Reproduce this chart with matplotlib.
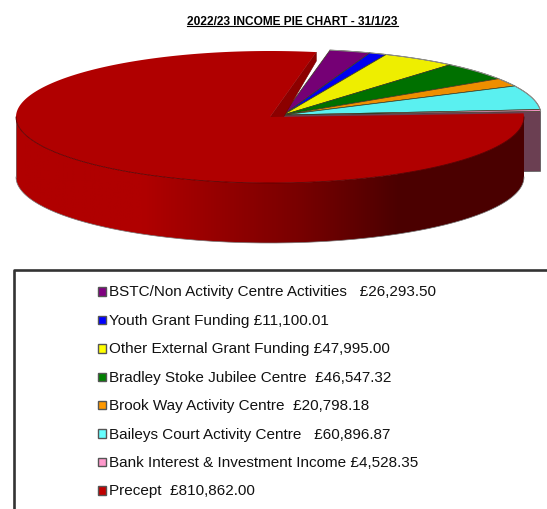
from __future__ import annotations

import matplotlib

matplotlib.use("Agg")
import matplotlib.pyplot as plt
import numpy as np
from matplotlib.colors import LinearSegmentedColormap
from matplotlib.patches import Polygon, Rectangle

plt.rcParams["font.family"] = ["Liberation Sans", "DejaVu Sans"]

TITLE = "2022/23 INCOME PIE CHART - 31/1/23"
VALUES = [26293.50, 11100.01, 47995.00, 46547.32, 20798.18, 60896.87, 4528.35, 810862.00]
LABELS = [
    "BSTC/Non Activity Centre Activities   £26,293.50",
    "Youth Grant Funding £11,100.01",
    "Other External Grant Funding £47,995.00",
    "Bradley Stoke Jubilee Centre  £46,547.32",
    "Brook Way Activity Centre  £20,798.18",
    "Baileys Court Activity Centre   £60,896.87",
    "Bank Interest & Investment Income £4,528.35",
    "Precept  £810,862.00",
]
TOP_COLOURS = ["#750075", "#0000f0", "#eeee00", "#007000", "#ee8e00", "#5af0f0", "#f090c0", "#b00000"]
KEY_COLOURS = ["#800080", "#0000ff", "#ffff00", "#008000", "#ff9900", "#66ffff", "#ff99cc", "#c00000"]

# pie geometry, in image pixels
START = 79.5
CX, CY = 283.0, 116.0
RX, RY = 258.0, 66.0
MAIN_CX, MAIN_CY = 270.0, 118.0
MAIN_RX = 254.0
DEPTH = 60.0


def arc(cx, cy, rx, t0, t1, n=200):
    t = np.radians(np.linspace(t0, t1, n))
    return np.column_stack([cx + rx * np.cos(t), cy - RY * np.sin(t)])


def main() -> None:
    fig = plt.figure(figsize=(5.47, 5.10), dpi=100)
    ax = fig.add_axes([0, 0, 1, 1])
    ax.set_xlim(0, 547)
    ax.set_ylim(510, 0)
    ax.axis("off")

    sweeps = np.array(VALUES) / sum(VALUES) * 360.0
    ends = START - np.cumsum(sweeps)
    starts = ends + sweeps

    # cut wall of the bank interest slice, seen past the end of the precept
    edge = arc(CX, CY, RX, ends[6], ends[6], 1)[0]
    wall = [(CX, CY), tuple(edge), (edge[0], edge[1] + DEPTH), (CX, CY + DEPTH)]
    ax.add_patch(Polygon(wall, closed=True, fc="#6b3f52", ec="#555555", lw=0.5, zorder=1))

    for i in range(7):
        outline = np.vstack([[CX, CY], arc(CX, CY, RX, starts[i], ends[i])])
        ax.add_patch(Polygon(outline, closed=True, fc=TOP_COLOURS[i], ec="#3a3a20", lw=0.5, zorder=2))
        ax.plot(*arc(CX, CY, RX, starts[i], ends[i]).T, color="#909090", lw=0.7, zorder=2)

    # inner wall of the precept at its upper cut
    corner = arc(MAIN_CX, MAIN_CY, MAIN_RX, ends[7], ends[7], 1)[0]
    inner = [(MAIN_CX, MAIN_CY), tuple(corner), (corner[0], corner[1] + 9), (MAIN_CX + 13, MAIN_CY + 1)]
    ax.add_patch(Polygon(inner, closed=True, fc="#8c0000", ec="#700000", lw=0.4, zorder=3))

    # precept side, shaded left to right
    rim = arc(MAIN_CX, MAIN_CY, MAIN_RX, 180, 360)
    side = np.vstack([rim, (rim + [0, DEPTH])[::-1]])
    cmap = LinearSegmentedColormap.from_list(
        "side",
        [(0.0, "#b00000"), (0.25, "#b00000"), (0.55, "#7a0000"), (0.75, "#4c0000"), (1.0, "#4a0000")],
    )
    shade = ax.imshow(
        np.linspace(0, 1, 512)[None, :], cmap=cmap, aspect="auto",
        extent=(16, 524, 244, 118), zorder=4,
    )
    shade.set_clip_path(Polygon(side, closed=True, transform=ax.transData))
    ax.set_xlim(0, 547)
    ax.set_ylim(510, 0)
    ax.plot(*(rim + [0, DEPTH]).T, color="#777777", lw=0.5, zorder=4)
    ax.plot([16, 16], [118, 178], color="#777777", lw=0.5, zorder=4)

    # precept top
    top = np.vstack([[MAIN_CX, MAIN_CY], arc(MAIN_CX, MAIN_CY, MAIN_RX, starts[7], ends[7], 400)])
    ax.add_patch(Polygon(top, closed=True, fc=TOP_COLOURS[7], ec="none", zorder=5))
    ax.plot(*rim.T, color="#5a0000", lw=0.6, zorder=5)

    title = ax.text(292.5, 21.7, TITLE, fontsize=8.6, fontweight="bold", ha="center", va="center", color="black")
    fig.canvas.draw()
    box = title.get_window_extent().transformed(ax.transData.inverted())
    ax.plot([box.x0, box.x1], [26.5, 26.5], color="black", lw=0.8)

    # legend frame runs off the right and bottom of the picture
    ax.plot([13.5, 13.5, 560], [520, 270.5, 270.5], color="#333333", lw=1.9)
    rows = np.linspace(292.5, 491.5, len(LABELS))
    for label, colour, y in zip(LABELS, KEY_COLOURS, rows):
        ax.add_patch(Rectangle((97.8, y - 4.2), 8.2, 8.4, fc=colour, ec="#555555", lw=1.0))
        ax.text(109, y, label, fontsize=10.97, va="center", ha="left", color="#111111")

    fig.savefig("out.png", dpi=100)
    plt.close(fig)


if __name__ == "__main__":
    main()
